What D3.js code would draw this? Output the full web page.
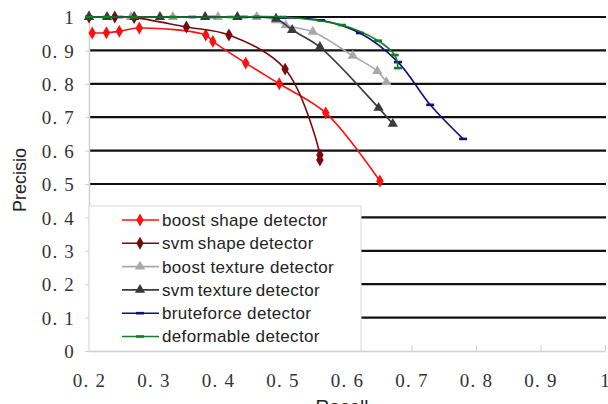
<!DOCTYPE html>
<html><head><meta charset="utf-8">
<script src="https://cdn.jsdelivr.net/npm/d3@7"></script>
<style>body{margin:0;background:#fff;}svg{display:block;}</style>
</head><body>
<svg id="c" width="608" height="404"></svg>
<script>
const xTicks = [0.2,0.3,0.4,0.5,0.6,0.7,0.8,0.9,1];
const xTickLabels = ["0. 2","0. 3","0. 4","0. 5","0. 6","0. 7","0. 8","0. 9","1"];
const yTicks = [0,0.1,0.2,0.3,0.4,0.5,0.6,0.7,0.8,0.9,1];
const yTickLabels = ["0","0. 1","0. 2","0. 3","0. 4","0. 5","0. 6","0. 7","0. 8","0. 9","1"];
const seriesNames = ["boost shape detector","svm shape detector","boost texture detector","svm texture detector","bruteforce detector","deformable detector"];
const boostShape = [[0.205,0.952],[0.227,0.953],[0.247,0.957],[0.278,0.967],[0.381,0.946],[0.392,0.927],[0.443,0.862],[0.495,0.80],[0.567,0.713],[0.651,0.509]];
const svmShape = [[0.2,1],[0.24,1],[0.27,0.998],[0.351,0.970],[0.417,0.946],[0.504,0.844],[0.558,0.587],[0.558,0.572]];
const boostTexture = [[0.2,1],[0.265,1],[0.33,1],[0.4,1],[0.46,1],[0.49,0.99],[0.505,0.975],[0.547,0.956],[0.609,0.884],[0.647,0.838],[0.661,0.805]];
const svmTexture = [[0.2,1],[0.228,1],[0.27,1],[0.31,1],[0.38,1],[0.43,1],[0.49,0.995],[0.515,0.961],[0.558,0.91],[0.649,0.728],[0.671,0.680]];
const bruteforce = [[0.2,1],[0.247,1],[0.36,1],[0.39,1],[0.44,1],[0.46,1],[0.5,0.998],[0.56,0.99],[0.62,0.952],[0.679,0.865],[0.729,0.737],[0.780,0.635]];
const deformable = [[0.2,1],[0.227,1],[0.27,1],[0.33,1],[0.42,1],[0.5,1],[0.592,0.976],[0.648,0.929],[0.674,0.886],[0.679,0.847]];
const seriesData = [boostShape, svmShape, boostTexture, svmTexture, bruteforce, deformable];
const colors = ["#ff1010","#7a0a0a","#a8a8a8","#3a3a3a","#101080","#108020"];
const markers = ["diamond","diamond","triangle","triangle","dash","dash"];

const svg = d3.select("#c");
const pLeft = 89, pRight = 605, pTop = 17, pBottom = 351;
const x = d3.scaleLinear().domain([0.2,1]).range([pLeft,pRight]);
const y = d3.scaleLinear().domain([0,1]).range([pBottom,pTop]);

// gridlines
svg.append("g").selectAll("line").data(yTicks.filter(d=>d>0)).join("line")
  .attr("x1",pLeft).attr("x2",606).attr("y1",d=>y(d)).attr("y2",d=>y(d))
  .attr("stroke","#111").attr("stroke-width",2.2);

// axes
const xAxis = svg.append("g").attr("transform",`translate(0,${pBottom})`)
  .call(d3.axisBottom(x).tickValues(xTicks).tickSize(0).tickFormat((d,i)=>xTickLabels[i]));
xAxis.select(".domain").attr("stroke","#d0d0d0").attr("stroke-width",1.5);
xAxis.selectAll(".tick").append("line").attr("y1",-6).attr("y2",0).attr("stroke","#d0d0d0");
xAxis.selectAll("text").attr("dy",0).attr("y",36).attr("font-family","Liberation Serif").attr("font-size",19)
  .attr("letter-spacing",1.2).attr("fill","#333");

const yAxis = svg.append("g").attr("transform",`translate(${pLeft},0)`)
  .call(d3.axisLeft(y).tickValues(yTicks).tickSize(0).tickFormat((d,i)=>yTickLabels[i]));
yAxis.select(".domain").attr("stroke","#d0d0d0").attr("stroke-width",1.5);
yAxis.selectAll(".tick").append("line").attr("x1",-4).attr("x2",0).attr("stroke","#d0d0d0");
yAxis.selectAll("text").attr("x",-14).attr("dy","0.35em").attr("font-family","Liberation Serif").attr("font-size",19)
  .attr("letter-spacing",1.2).attr("fill","#333");

// series
const line = d3.line().x(d=>x(d[0])).y(d=>y(d[1])).curve(d3.curveCatmullRom.alpha(0.5));
function drawMarker(g, type, color, px, py){
  if(type==="dash"){
    g.append("rect").attr("x",px-4).attr("y",py-1.3).attr("width",8).attr("height",2.6).attr("fill",color);
  } else {
    const sym = type==="diamond"? d3.symbolDiamond : d3.symbolTriangle;
    g.append("path").attr("d",d3.symbol().type(sym).size(type==="diamond"?48:46)())
      .attr("transform",`translate(${px},${py})`).attr("fill",color);
  }
}
seriesData.forEach((data,i)=>{
  const g = svg.append("g");
  g.append("path").datum(data).attr("d",line).attr("fill","none").attr("stroke",colors[i]).attr("stroke-width",1.6);
  data.forEach(d=>drawMarker(g,markers[i],colors[i],x(d[0]),y(d[1])));
});

// legend
const lg = svg.append("g");
lg.append("rect").attr("x",pLeft).attr("y",206).attr("width",272).attr("height",pBottom-206)
  .attr("fill","#fff").attr("stroke","#d8d8d8").attr("stroke-width",1);
seriesNames.forEach((name,i)=>{
  const ly = 220 + i*23.3;
  lg.append("line").attr("x1",122).attr("x2",159).attr("y1",ly).attr("y2",ly).attr("stroke",colors[i]).attr("stroke-width",1.6);
  drawMarker(lg,markers[i],colors[i],140,ly);
  lg.append("text").attr("x",162).attr("y",ly).attr("dy","0.35em")
    .attr("font-family","Liberation Sans").attr("font-size",17).attr("letter-spacing",0.35)
    .attr("word-spacing", name.startsWith("svm ") ? -1.5 : 0)
    .attr("fill","#222").text(name);
});

// axis titles
svg.append("text").attr("transform","translate(26,180) rotate(-90)").attr("text-anchor","middle")
  .attr("font-family","Liberation Sans").attr("font-size",18).attr("fill","#222").text("Precisio");
svg.append("text").attr("x",342).attr("y",413).attr("text-anchor","middle")
  .attr("font-family","Liberation Sans").attr("font-size",19).attr("fill","#222").text("Recall");
</script>
</body></html>
